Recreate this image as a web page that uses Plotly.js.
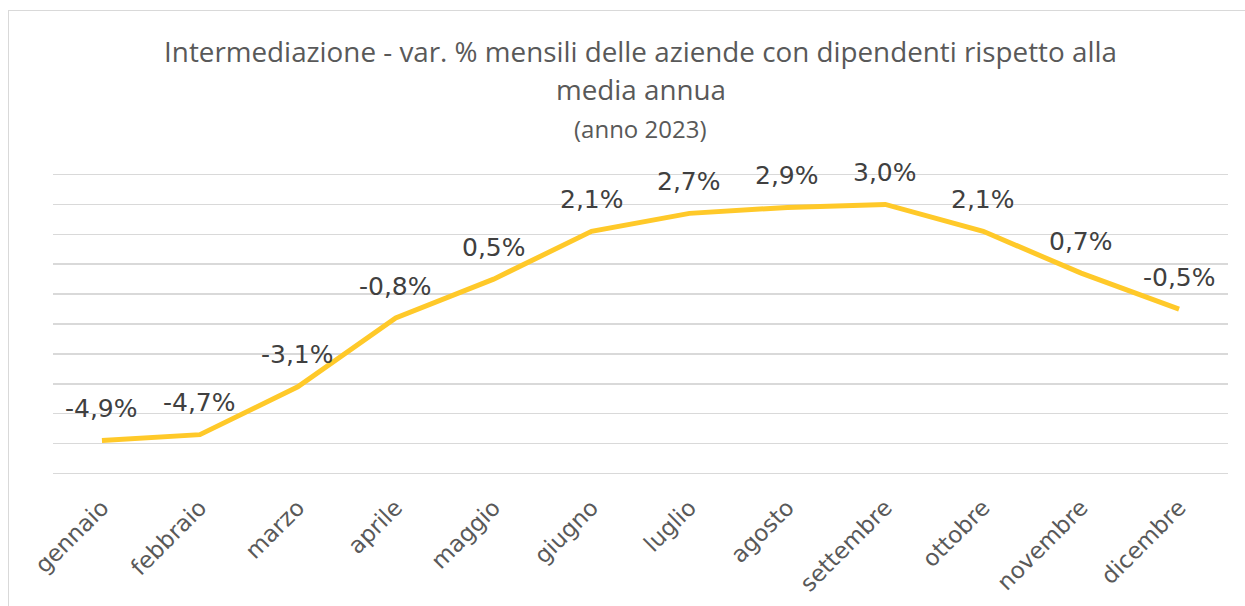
<!DOCTYPE html>
<html>
<head>
<meta charset="utf-8">
<script src="https://cdn.plot.ly/plotly-3.0.1.min.js"></script>
<style>
html,body{margin:0;padding:0;background:#fff;}
#chart{width:1245px;height:606px;}
#frame{position:absolute;left:8px;top:10px;width:1300px;height:700px;border-top:1px solid #d9d9d9;border-left:1px solid #d9d9d9;pointer-events:none;z-index:5;}
</style>
</head>
<body>
<div id="frame"></div>
<div id="chart"></div>
<script>
const months = ["gennaio","febbraio","marzo","aprile","maggio","giugno","luglio","agosto","settembre","ottobre","novembre","dicembre"];
const values = [-4.9, -4.7, -3.1, -0.8, 0.5, 2.1, 2.7, 2.9, 3.0, 2.1, 0.7, -0.5];
const labels = ["-4,9%","-4,7%","-3,1%","-0,8%","0,5%","2,1%","2,7%","2,9%","3,0%","2,1%","0,7%","-0,5%"];
const titleLine1 = "Intermediazione - var. % mensili delle aziende con dipendenti rispetto alla";
const titleLine2 = "media annua";
const titleLine3 = "(anno 2023)";

const TFONT = "Open Sans, Noto Sans, sans-serif";
const LFONT = "DejaVu Sans, Verdana, sans-serif";
const GREY = "#595959";

const trace = {
  x: months,
  y: values,
  type: "scatter",
  mode: "lines",
  line: {color: "#FFC929", width: 5},
  hoverinfo: "skip"
};

// plot area: top 173px, height 302px for range [-6.05, 4.05]
const PT = 173, PH = 302;
const py = (pix) => (PT + PH - pix) / PH;

const annotations = months.map((m, i) => ({
  x: m, y: values[i], xref: "x", yref: "y",
  text: labels[i], showarrow: false,
  yshift: 32, yanchor: "middle", xanchor: "center",
  font: {family: LFONT, size: 25, color: "#404040"}
}));

annotations.push({
  xref: "paper", yref: "paper", x: 0.5, y: py(89),
  text: titleLine2, showarrow: false, xanchor: "center", yanchor: "middle",
  font: {family: TFONT, size: 27.8, color: GREY}
});
annotations.push({
  xref: "paper", yref: "paper", x: 0.5, y: py(128),
  text: titleLine3, showarrow: false, xanchor: "center", yanchor: "middle",
  font: {family: TFONT, size: 24, color: GREY}
});

const layout = {
  width: 1245, height: 606,
  margin: {l: 53, r: 17, t: PT, b: 606 - PT - PH},
  paper_bgcolor: "#fff", plot_bgcolor: "#fff",
  showlegend: false,
  title: {
    text: titleLine1,
    x: 0.5, xref: "paper", xanchor: "center",
    y: 1 - 52 / 606, yref: "container", yanchor: "middle",
    font: {family: TFONT, size: 27.8, color: GREY}
  },
  xaxis: {
    type: "category",
    range: [-0.5, 11.5],
    showgrid: false, zeroline: false, showline: false,
    ticks: "outside", ticklen: 9, tickcolor: "rgba(0,0,0,0)",
    tickangle: -45,
    tickfont: {family: LFONT, size: 23, color: GREY},
    fixedrange: true
  },
  yaxis: {
    range: [-6.05, 4.05],
    dtick: 1, tick0: 0,
    showticklabels: false,
    showgrid: true, gridcolor: "#d9d9d9", gridwidth: 1.5,
    zeroline: false, showline: false,
    fixedrange: true
  },
  annotations: annotations
};

Plotly.newPlot("chart", [trace], layout, {displayModeBar: false, staticPlot: true});
</script>
</body>
</html>
